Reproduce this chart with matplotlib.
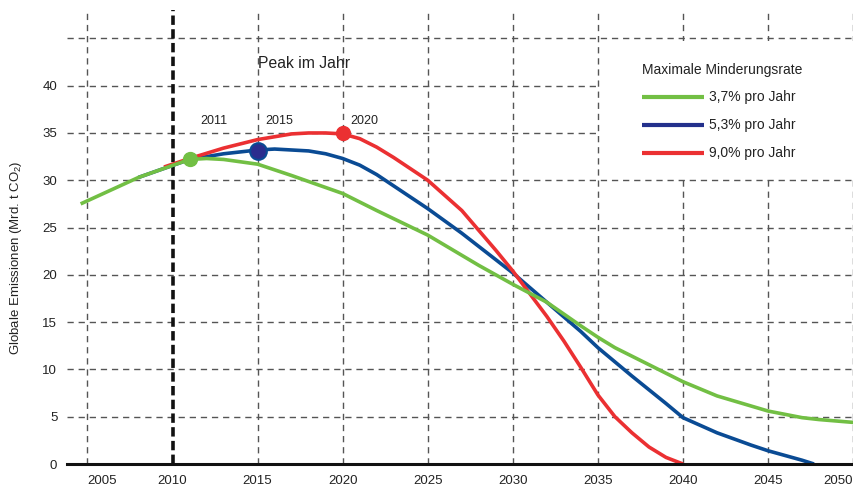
import matplotlib
matplotlib.use("Agg")
import matplotlib.pyplot as plt
from matplotlib.patches import Rectangle

plt.rcParams['font.family'] = ['Liberation Sans', 'DejaVu Sans']
plt.rcParams['mathtext.fontset'] = 'custom'
plt.rcParams['mathtext.rm'] = 'Liberation Sans'
plt.rcParams['mathtext.it'] = 'Liberation Sans'

# values
years_green = [2004.6, 2008, 2011, 2012, 2013, 2015, 2017, 2020, 2022, 2025, 2028, 2030,
               2032, 2034, 2035, 2036, 2038, 2040, 2042, 2045, 2047, 2048, 2050]
green = [27.5, 30.3, 32.2, 32.3, 32.2, 31.7, 30.5, 28.6, 26.8, 24.2, 21.0, 19.0,
         17.1, 14.6, 13.4, 12.3, 10.5, 8.7, 7.2, 5.6, 4.9, 4.7, 4.4]

years_blue = [2008, 2011, 2013, 2015, 2016, 2017, 2018, 2019, 2020, 2021, 2022, 2023, 2025,
              2027, 2030, 2032, 2034, 2035, 2037, 2039, 2040, 2042, 2044, 2045, 2046, 2047, 2047.7]
blue = [30.3, 32.2, 32.8, 33.2, 33.3, 33.2, 33.1, 32.8, 32.3, 31.6, 30.6, 29.4, 27.0,
        24.4, 20.2, 17.1, 14.0, 12.3, 9.3, 6.4, 4.9, 3.3, 2.0, 1.4, 0.9, 0.4, 0.0]

years_red = [2009.5, 2011, 2013, 2015, 2017, 2018, 2019, 2020, 2021, 2022, 2023, 2024, 2025,
             2027, 2029, 2030, 2031, 2032, 2033, 2034, 2035, 2036, 2037, 2038, 2039, 2040]
red = [31.4, 32.3, 33.4, 34.3, 34.9, 35.0, 35.0, 34.9, 34.4, 33.5, 32.4, 31.2, 30.0,
       26.8, 22.6, 20.4, 18.0, 15.6, 13.0, 10.2, 7.3, 5.0, 3.3, 1.8, 0.7, 0.0]

peak_years = [2011, 2015, 2020]
peak_values = [32.2, 33.1, 34.95]
legend_labels = ['3,7% pro Jahr', '5,3% pro Jahr', '9,0% pro Jahr']

c_green = '#72bf44'
c_blue = '#0a4b94'
c_red = '#eb3032'

fig = plt.figure(figsize=(8.54, 4.93), dpi=100)
ax = fig.add_axes([0.0785, 0.0588, 0.9215, 0.9209])
ax.set_xlim(2003.8, 2050.05)
ax.set_ylim(0, 48)

# grid
grid_kw = dict(color='#555555', lw=1.0, dashes=(4.5, 3.5), zorder=1)
for yv in range(5, 50, 5):
    ax.axhline(yv, **grid_kw)
for xv in range(2005, 2051, 5):
    if xv == 2010:
        continue
    ax.axvline(xv, **grid_kw)
ax.axvline(2010, color='#111111', lw=2.6, dashes=(2.6, 1.2), zorder=1)

# white area behind legend
ax.add_patch(Rectangle((2035.15, 30.25), 14.9, 14.5, facecolor='white',
                       edgecolor='none', zorder=2))

ax.plot(years_blue, blue, color=c_blue, lw=2.6, zorder=3, solid_capstyle='butt')
ax.plot(years_red, red, color=c_red, lw=2.6, zorder=4, solid_capstyle='butt')
ax.plot(years_green, green, color=c_green, lw=2.6, zorder=5, solid_capstyle='butt')

ax.plot(peak_years[0], peak_values[0], 'o', color=c_green, ms=10, zorder=6)
ax.plot(peak_years[1], peak_values[1], 'o', mfc='#2b2d8e', mec=c_blue, mew=1.5, ms=12, zorder=6)
ax.plot(peak_years[2], peak_values[2], 'o', color=c_red, ms=10, zorder=6)

for yr, dx in zip(peak_years, [0.65, 0.45, 0.45]):
    ax.text(yr + dx, 36.3, str(yr), fontsize=9, color='#222222', va='center', ha='left')

ax.text(2015.0, 42.3, 'Peak im Jahr', fontsize=11.3, color='#222222', va='center', ha='left')

# legend
ax.text(2037.6, 41.7, 'Maximale Minderungsrate', fontsize=10, color='#222222',
        va='center', ha='left', zorder=7)
for i, (lab, col) in enumerate(zip(legend_labels, ['#72bf44', '#23308c', c_red])):
    yl = 38.8 - i * 2.95
    ax.plot([2037.6, 2041.25], [yl, yl], color=col, lw=3, zorder=7, solid_capstyle='butt')
    ax.text(2041.5, yl, lab, fontsize=10, color='#222222', va='center', ha='left', zorder=7)

# axes
for s in ['top', 'right', 'left']:
    ax.spines[s].set_visible(False)
ax.spines['bottom'].set_linewidth(2.2)
ax.spines['bottom'].set_color('#111111')
ax.spines['bottom'].set_zorder(8)

ax.set_yticks(range(0, 45, 5))
ax.set_xticks(range(2005, 2051, 5))
ax.tick_params(axis='both', length=0, labelsize=9.5, labelcolor='#222222')
ax.tick_params(axis='y', pad=7)
ax.tick_params(axis='x', pad=8)
xlabels = ax.get_xticklabels()
xlabels[0].set_horizontalalignment('left')
xlabels[-1].set_horizontalalignment('right')

ax.set_ylabel('Globale Emissionen (Mrd. t CO$_2$)', fontsize=9.5, color='#222222')
ax.yaxis.set_label_coords(-0.055, 0.455)

fig.savefig('out.png', dpi=100)
